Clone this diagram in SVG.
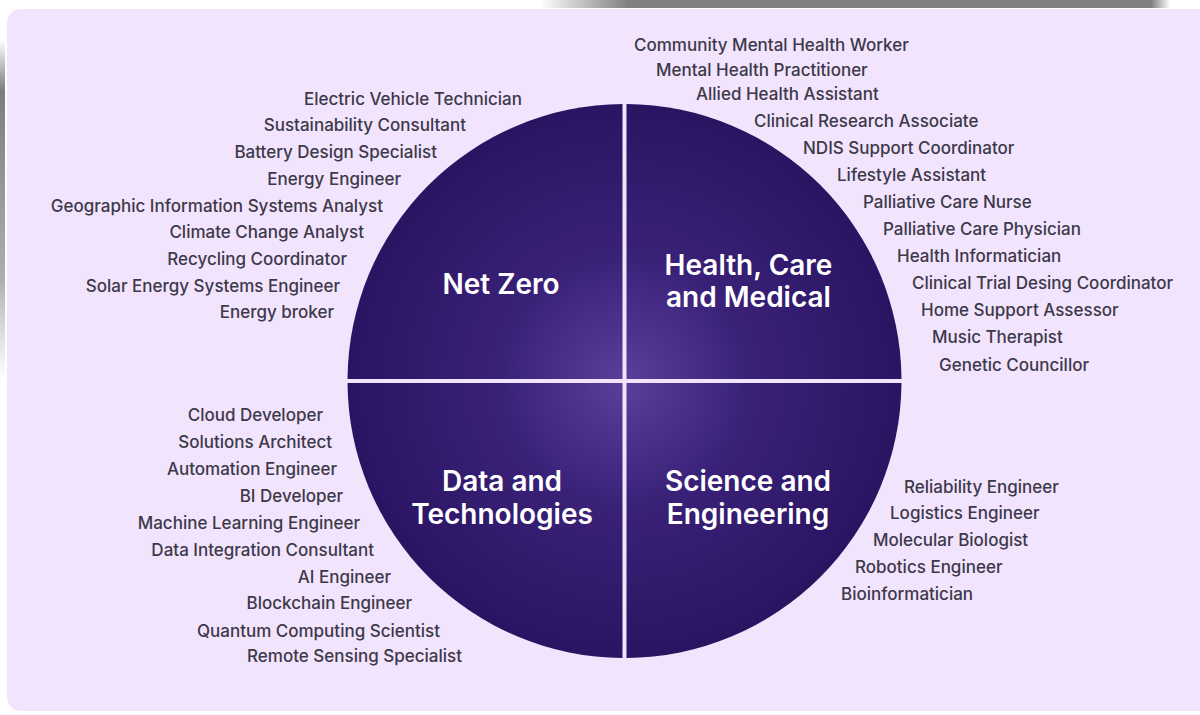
<svg xmlns="http://www.w3.org/2000/svg" width="1200" height="715" viewBox="0 0 1200 715">
  <defs>
    <radialGradient id="disc" gradientUnits="userSpaceOnUse" cx="624.5" cy="381" r="277">
      <stop offset="0" stop-color="#5a3f9c"/>
      <stop offset="0.45" stop-color="#3a2178"/>
      <stop offset="1" stop-color="#2a1462"/>
    </radialGradient>
    <linearGradient id="topbar" x1="0" y1="0" x2="1" y2="0">
      <stop offset="0" stop-color="#808080" stop-opacity="0"/>
      <stop offset="0.14" stop-color="#808080" stop-opacity="1"/>
      <stop offset="0.97" stop-color="#808080" stop-opacity="1"/>
      <stop offset="1" stop-color="#808080" stop-opacity="0"/>
    </linearGradient>
    <linearGradient id="leftbar" x1="0" y1="0" x2="0" y2="1">
      <stop offset="0" stop-color="#6e6e6e" stop-opacity="0"/>
      <stop offset="0.15" stop-color="#6e6e6e" stop-opacity="0.9"/>
      <stop offset="0.7" stop-color="#8a8a8a" stop-opacity="0.7"/>
      <stop offset="1" stop-color="#9a9a9a" stop-opacity="0"/>
    </linearGradient>
    <style>
      .job { font-family: Inter, "Liberation Sans", sans-serif; font-size: 17px; font-weight: 500; fill: #3c3949; }
      .end { text-anchor: end; }
      .quad { fill: url(#disc); }
      .title { font-family: Inter, "Liberation Sans", sans-serif; font-size: 28px; font-weight: 600; fill: #ffffff; text-anchor: middle; }
    </style>
  </defs>

  <rect x="0" y="0" width="1200" height="715" fill="#ffffff"/>
  <rect x="540" y="0" width="630" height="8" fill="url(#topbar)"/>
  <rect x="0" y="40" width="5" height="340" fill="url(#leftbar)"/>
  <rect x="7" y="9" width="1210" height="702" rx="14" fill="#f2e4fd"/>

  <g id="net-zero">
    <path class="quad" d="M622.5,379 L622.5,104 A277,277 0 0 0 347.5,379 Z"/>
    <text class="title" x="501" y="294">Net Zero</text>
  </g>
  <g id="health-care-medical">
    <path class="quad" d="M626.5,379 L626.5,104 A277,277 0 0 1 901.5,379 Z"/>
    <text class="title" x="748.5" y="275">Health, Care</text>
    <text class="title" x="748.5" y="307">and Medical</text>
  </g>
  <g id="data-technologies">
    <path class="quad" d="M622.5,383 L347.5,383 A277,277 0 0 0 622.5,658 Z"/>
    <text class="title" x="502" y="491">Data and</text>
    <text class="title" x="502" y="524">Technologies</text>
  </g>
  <g id="science-engineering">
    <path class="quad" d="M626.5,383 L626.5,658 A277,277 0 0 0 901.5,383 Z"/>
    <text class="title" x="748" y="491">Science and</text>
    <text class="title" x="748" y="524">Engineering</text>
  </g>

  <g id="net-zero-roles" class="job end">
    <text x="522" y="105">Electric Vehicle Technician</text>
    <text x="466" y="131">Sustainability Consultant</text>
    <text x="437" y="158">Battery Design Specialist</text>
    <text x="401" y="185">Energy Engineer</text>
    <text x="383" y="212">Geographic Information Systems Analyst</text>
    <text x="364" y="238">Climate Change Analyst</text>
    <text x="347" y="265">Recycling Coordinator</text>
    <text x="340" y="292">Solar Energy Systems Engineer</text>
    <text x="334" y="318">Energy broker</text>
  </g>

  <g id="health-roles" class="job">
    <text x="634" y="51">Community Mental Health Worker</text>
    <text x="656" y="76">Mental Health Practitioner</text>
    <text x="696" y="100">Allied Health Assistant</text>
    <text x="754" y="127">Clinical Research Associate</text>
    <text x="803" y="154">NDIS Support Coordinator</text>
    <text x="837" y="181">Lifestyle Assistant</text>
    <text x="863" y="208">Palliative Care Nurse</text>
    <text x="883" y="235">Palliative Care Physician</text>
    <text x="897" y="262">Health Informatician</text>
    <text x="912" y="289">Clinical Trial Desing Coordinator</text>
    <text x="921" y="316">Home Support Assessor</text>
    <text x="932" y="343">Music Therapist</text>
    <text x="939" y="371">Genetic Councillor</text>
  </g>

  <g id="data-roles" class="job end">
    <text x="323" y="421">Cloud Developer</text>
    <text x="332" y="448">Solutions Architect</text>
    <text x="337" y="475">Automation Engineer</text>
    <text x="343" y="502">BI Developer</text>
    <text x="360" y="529">Machine Learning Engineer</text>
    <text x="374" y="556">Data Integration Consultant</text>
    <text x="391" y="583">AI Engineer</text>
    <text x="412" y="609">Blockchain Engineer</text>
    <text x="440" y="637">Quantum Computing Scientist</text>
    <text x="462" y="662">Remote Sensing Specialist</text>
  </g>

  <g id="science-roles" class="job">
    <text x="904" y="493">Reliability Engineer</text>
    <text x="890" y="519">Logistics Engineer</text>
    <text x="873" y="546">Molecular Biologist</text>
    <text x="855" y="573">Robotics Engineer</text>
    <text x="841" y="600">Bioinformatician</text>
  </g>

  <g id="connectors"></g>
</svg>
